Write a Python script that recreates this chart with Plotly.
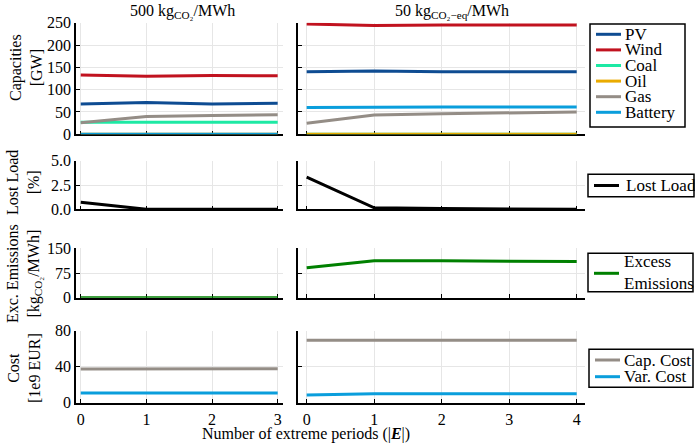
import plotly.graph_objects as go

W, H = 695, 446
FONT = "'Liberation Serif', 'Times New Roman', serif"

# ---------------- data ----------------
x_left = [0, 1, 2, 3]
x_right = [0, 1, 2, 3, 4]

cap_names = ["PV", "Wind", "Coal", "Oil", "Gas", "Battery"]
cap_colors = ["#0E4C92", "#C1121F", "#1DE9A4", "#EAAB00", "#948D86", "#0A9EDC"]

pv_left = [68, 71, 68, 69.5]
wind_left = [133, 130, 132, 131]
coal_left = [27, 27, 27, 27]
oil_left = [0, 0, 0, 0]
gas_left = [26, 40, 42, 44]
battery_left = [0, 0, 0, 0]

pv_right = [140, 142, 140, 140, 140]
wind_right = [247, 244, 245, 245, 245]
coal_right = [0, 0, 0, 0, 0]
oil_right = [0, 0, 0, 0, 0]
gas_right = [25, 43, 46, 48, 50]
battery_right = [60, 61, 61, 61, 61]

lost_load_left = [0.72, 0, 0, 0]
lost_load_right = [3.3, 0.15, 0.08, 0.03, 0]

emis_left = [0, 0, 0, 0]
emis_right = [91, 112, 112, 111, 110]

cap_cost_left = [37.5, 37.8, 37.8, 37.8]
var_cost_left = [10.8, 11.0, 10.8, 10.8]
cap_cost_right = [69.3, 69.5, 69.5, 69.5, 69.5]
var_cost_right = [8.6, 9.9, 9.9, 9.9, 9.9]

lost_color = "#000000"
emis_color = "#008000"
cost_names = ["Cap. Cost", "Var. Cost"]
cost_colors = ["#948D86", "#0A9EDC"]

col_titles = ["500 kg<sub>CO₂</sub>/MWh", "50 kg<sub>CO₂−eq</sub>/MWh"]
row_titles = ["Capacities<br>[GW]", "Lost Load<br>[%]",
              "Exc. Emissions<br>[kg<sub>CO₂</sub>/MWh]", "Cost<br>[1e9 EUR]"]
x_title = "Number of extreme periods (|<b><i>E</i></b>|)"

# ---------------- layout helpers ----------------
def px_x(x):
    return x / W

def px_y(y):
    return 1 - y / H

col_dom = [(76, 283), (298.3, 585)]
col_range = [(-0.072, 3.081), (-0.124, 4.123)]
col_ticks = [x_left, x_right]
row_dom = [(22.7, 134.3), (160.7, 209.3), (248.3, 297.7), (330.7, 402.7)]
row_range = [(0, 250), (0, 5), (0, 150), (0, 80)]
row_dtick = [50, 2.5, 75, 40]
row_fmt = ["d", ".1f", "d", "d"]

fig = go.Figure()
layout = dict(
    template="none",
    width=W, height=H, margin=dict(l=0, r=0, t=0, b=0, autoexpand=False),
    paper_bgcolor="white", plot_bgcolor="white", showlegend=False,
    font=dict(family=FONT, size=16, color="black"),
)

def idx_of(r, c):
    return r * 2 + c + 1

for r in range(4):
    for c in range(2):
        i = idx_of(r, c)
        sx = "" if i == 1 else str(i)
        layout["xaxis" + sx] = dict(
            domain=[px_x(col_dom[c][0]), px_x(col_dom[c][1])],
            range=list(col_range[c]), anchor="y" + sx, automargin=False,
            showline=True, linecolor="black", linewidth=1.5, layer="below traces",
            ticks="inside", ticklen=4, tickcolor="black", tickwidth=1,
            tickvals=col_ticks[c], showticklabels=(r == 3), ticklabelstandoff=1,
            showgrid=True, gridcolor="#e6e6e6", gridwidth=1, zeroline=False,
            tickfont=dict(family=FONT, size=16, color="black"),
        )
        layout["yaxis" + sx] = dict(
            domain=[px_y(row_dom[r][1]), px_y(row_dom[r][0])],
            range=list(row_range[r]), anchor="x" + sx, automargin=False,
            showline=True, linecolor="black", linewidth=1.5, layer="below traces",
            ticks="inside", ticklen=4, tickcolor="black", tickwidth=1,
            dtick=row_dtick[r], tick0=0, tickformat=row_fmt[r],
            showticklabels=(c == 0),
            showgrid=True, gridcolor="#e6e6e6", gridwidth=1, zeroline=False,
            tickfont=dict(family=FONT, size=16, color="black"),
        )

def add_line(x, y, color, r, c, name):
    i = idx_of(r, c)
    sx = "" if i == 1 else str(i)
    fig.add_trace(go.Scatter(
        x=x, y=y, mode="lines", name=name,
        line=dict(color=color, width=3),
        xaxis="x" + sx, yaxis="y" + sx, cliponaxis=False, showlegend=False,
    ))

left_caps = [pv_left, wind_left, coal_left, oil_left, gas_left, battery_left]
right_caps = [pv_right, wind_right, coal_right, oil_right, gas_right, battery_right]
for name, color, yl, yr in zip(cap_names, cap_colors, left_caps, right_caps):
    add_line(x_left, yl, color, 0, 0, name)
    add_line(x_right, yr, color, 0, 1, name)

add_line(x_left, lost_load_left, lost_color, 1, 0, "Lost Load")
add_line(x_right, lost_load_right, lost_color, 1, 1, "Lost Load")
add_line(x_left, emis_left, emis_color, 2, 0, "Excess Emissions")
add_line(x_right, emis_right, emis_color, 2, 1, "Excess Emissions")
for name, color, yl, yr in zip(cost_names, cost_colors,
                               [cap_cost_left, var_cost_left],
                               [cap_cost_right, var_cost_right]):
    add_line(x_left, yl, color, 3, 0, name)
    add_line(x_right, yr, color, 3, 1, name)

shapes = []
annotations = []

# column titles
for t, xc in zip(col_titles, [182.5, 451.7]):
    annotations.append(dict(text=t, x=px_x(xc), y=px_y(12), xref="paper", yref="paper",
                            xanchor="center", yanchor="middle", showarrow=False,
                            font=dict(family=FONT, size=16)))

# row titles
for t, (xc, yc) in zip(row_titles, [(26, 68), (23, 183), (24, 274), (24, 368)]):
    annotations.append(dict(text=t, x=px_x(xc), y=px_y(yc), xref="paper", yref="paper",
                            xanchor="center", yanchor="middle", showarrow=False,
                            textangle=-90, align="center",
                            font=dict(family=FONT, size=16)))

# x title
annotations.append(dict(text=x_title, x=px_x(306), y=px_y(434), xref="paper", yref="paper",
                        xanchor="center", yanchor="middle", showarrow=False,
                        font=dict(family=FONT, size=16)))

# legends (drawn as boxes + samples + labels)
def legend(box, colors, ys):
    x0, y0, x1, y1 = box
    shapes.append(dict(type="rect", xref="paper", yref="paper",
                       x0=px_x(x0), x1=px_x(x1), y0=px_y(y0), y1=px_y(y1),
                       line=dict(color="black", width=1.5), fillcolor="white"))
    for col, yy in zip(colors, ys):
        shapes.append(dict(type="line", xref="paper", yref="paper",
                           x0=px_x(x0 + 6), x1=px_x(x0 + 31), y0=px_y(yy), y1=px_y(yy),
                           line=dict(color=col, width=3)))

def legend_text(x, y, text):
    annotations.append(dict(text=text, x=px_x(x), y=px_y(y), xref="paper", yref="paper",
                            xanchor="left", yanchor="middle", showarrow=False, align="left",
                            font=dict(family=FONT, size=17)))

ys1 = [34.3, 49.9, 65.5, 81.1, 96.7, 112.3]
legend((590, 24, 685, 127), cap_colors, ys1)
for n, yy in zip(cap_names, ys1):
    legend_text(623, yy, n)

legend((588, 174.3, 694, 196.7), [lost_color], [185.5])
legend_text(624, 185.5, "Lost Load")

legend((588, 253.3, 693, 291.7), [emis_color], [273.3])
legend_text(622, 272.5, "Excess<br>Emissions")

ys4 = [360, 376.7]
legend((589, 349.3, 693, 387.3), cost_colors, ys4)
for n, yy in zip(cost_names, ys4):
    legend_text(622, yy, n)

layout["shapes"] = shapes
layout["annotations"] = annotations
fig.update_layout(**layout)
fig.write_html("out.html", config={"displayModeBar": False},
               post_script="document.body.style.margin='0px';document.body.style.overflow='hidden';")
